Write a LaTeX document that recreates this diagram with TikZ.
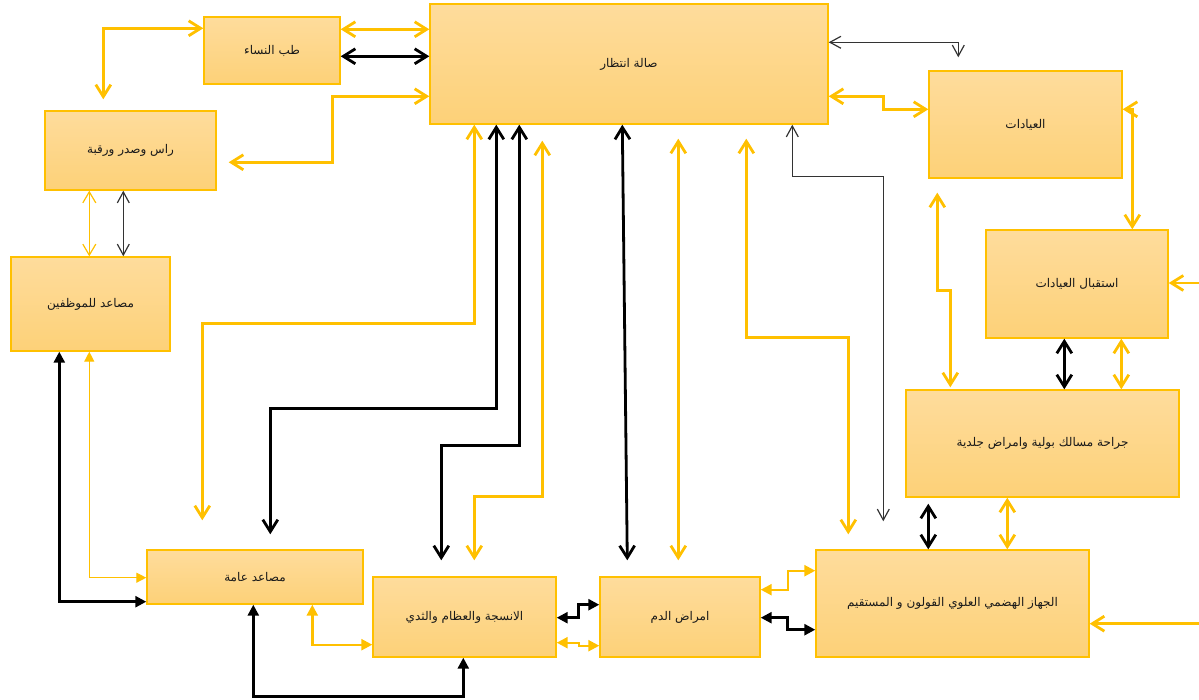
\documentclass[tikz,border=0pt]{standalone}
\usepackage{fontspec}
\usetikzlibrary{arrows.meta,calc}
\TeXXeTstate=1
\newfontfamily\arabicfont[Script=Arabic]{DejaVu Sans}
\newcommand\artxt[1]{{\arabicfont\fontsize{12}{14}\selectfont\beginR #1\endR}}
\definecolor{yel}{HTML}{FFC000}
\definecolor{boxtop}{HTML}{FEDC9C}
\definecolor{boxbot}{HTML}{FDD178}
\definecolor{ink}{HTML}{1A1A1A}
\tikzset{
  room/.style={draw=yel, line width=1.4pt, top color=boxtop, bottom color=boxbot,
    inner sep=0pt, text=ink},
  yl/.style={draw=yel, line width=2.8pt, >={Straight Barb[length=12pt,width=15pt]}},
  ylthin/.style={draw=yel, line width=1.2pt, >={Straight Barb[length=11pt,width=13pt]}},
  bk/.style={draw=black, line width=2.8pt, >={Straight Barb[length=12pt,width=15pt]}},
  bkthin/.style={draw=black!80, line width=1.2pt, >={Straight Barb[length=11pt,width=12pt]}},
  ylf/.style={draw=yel, line width=2.4pt, >={Triangle[length=11pt,width=11pt]}},
  ylfthin/.style={draw=yel, line width=1.3pt, >={Triangle[length=10pt,width=10pt]}},
  bkf/.style={draw=black, line width=2.6pt, >={Triangle[length=11pt,width=11pt]}},
  line join=miter
}
\begin{document}
\begin{tikzpicture}[x=1pt,y=-1pt]
\useasboundingbox (0,0) rectangle (1199,700);

% rooms
\node[room, minimum width=136, minimum height=67]  (wm) at (272,50.5)   {\artxt{طب النساء}};
\node[room, minimum width=398, minimum height=120] (ws) at (629,64)     {\artxt{صالة انتظار}};
\node[room, minimum width=171, minimum height=79]  (hn) at (130.5,150.5){\artxt{راس وصدر ورقبة}};
\node[room, minimum width=193, minimum height=107] (cl) at (1025.5,124.5){\artxt{العيادات}};
\node[room, minimum width=182, minimum height=108] (cr) at (1077,284)   {\artxt{استقبال العيادات}};
\node[room, minimum width=159, minimum height=94]  (se) at (90.5,304)   {\artxt{مصاعد للموظفين}};
\node[room, minimum width=216, minimum height=54]  (pe) at (255,577)    {\artxt{مصاعد عامة}};
\node[room, minimum width=183, minimum height=80]  (tb) at (464.5,617)  {\artxt{الانسجة والعظام والثدي}};
\node[room, minimum width=160, minimum height=80]  (bd) at (680,617)    {\artxt{امراض الدم}};
\node[room, minimum width=273, minimum height=107] (ur) at (1042.5,443.5){\artxt{جراحة مسالك بولية وامراض جلدية}};
\node[room, minimum width=273, minimum height=107] (gi) at (952.5,603.5){\artxt{الجهاز الهضمي العلوي القولون و المستقيم}};

% upper left
\draw[yl,<->] ($(hn.north west)+(59,-11)$) |- ($(wm.north west)+(0,12)$);
\draw[yl,<->] ($(wm.north east)+(0,13)$) -- ($(ws.north west)+(0,26)$);
\draw[bk,<->] ($(wm.north east)+(0,40)$) -- ($(ws.north west)+(0,53)$);
\draw[yl,<->] ($(ws.north west)+(0,93)$) -- ++(-97,0) |- ($(hn.north east)+(12,52)$);
\draw[ylthin,<->] ($(hn.south west)+(45,0)$) -- ($(se.north west)+(79,0)$);
\draw[bkthin,<->] ($(hn.south west)+(79,0)$) -- ($(se.north west)+(113,0)$);

% right side
\draw[bkthin,<->] ($(ws.north east)+(0,39)$) -| ($(cl.north west)+(30,-13)$);
\draw[yl,<->] ($(ws.north east)+(0,93)$) -- ++(55,0) |- ($(cl.north west)+(0,39)$);
\draw[yl,<->] ($(cr.north west)+(147,0)$) |- ($(cl.north east)+(0,39)$);
\draw[yl,->] ($(cr.east)+(31,-1)$) -- ($(cr.east)+(0,-1)$);
\draw[yl,->] ($(gi.south east)+(110,-34)$) -- ($(gi.south east)+(0,-34)$);
\draw[yl,<->] ($(cl.south west)+(9,14)$) -- ($(cl.south west)+(9,112)$) -| ($(ur.north west)+(45,-2)$);
\draw[bk,<->] ($(cr.south west)+(79,0)$) -- ($(ur.north west)+(159,0)$);
\draw[yl,<->] ($(cr.south west)+(136,0)$) -- ($(ur.north west)+(216,0)$);
\draw[bk,<->] ($(ur.south west)+(23,6)$) -- ($(gi.north west)+(113,0)$);
\draw[yl,<->] ($(ur.south west)+(102,0)$) -- ($(gi.north west)+(192,0)$);

% from the waiting hall downwards
\draw[yl,<->] ($(ws.south west)+(317,14)$) -- ($(ws.south west)+(317,213)$) -| ($(gi.north west)+(33,-15)$);
\draw[bkthin,<->] ($(ws.south west)+(363,0)$) -- ++(0,52) -| ($(gi.north west)+(68,-28)$);
\draw[yl,<->] ($(ws.south west)+(249,14)$) -- ($(bd.north west)+(79,-16)$);
\draw[bk,<->] ($(ws.south west)+(193,0)$) -- ($(bd.north west)+(28,-16)$);
\draw[yl,<->] ($(ws.south west)+(45,0)$) -- ++(0,199) -| ($(pe.north west)+(56,-29)$);
\draw[bk,<->] ($(ws.south west)+(67,0)$) -- ++(0,284) -| ($(pe.north west)+(124,-15)$);
\draw[bk,<->] ($(ws.south west)+(90,0)$) -- ++(0,321) -| ($(tb.north west)+(69,-16)$);
\draw[yl,<->] ($(ws.south west)+(113,16)$) -- ($(ws.south west)+(113,372)$) -| ($(tb.north west)+(102,-16)$);

% lower row
\draw[bkf,<->] ($(se.south west)+(49,0)$) |- ($(pe.south west)+(0,-3)$);
\draw[ylfthin,<->] ($(se.south west)+(79,0)$) |- ($(pe.south west)+(0,-27)$);
\draw[ylf,<->] ($(pe.south west)+(166,0)$) |- ($(tb.south west)+(0,-13)$);
\draw[bkf,<->] ($(pe.south west)+(107,0)$) -- ++(0,92) -| ($(tb.south west)+(91,0)$);
\draw[bkf,<->] ($(tb.south east)+(0,-40)$) -- ++(22,0) |- ($(bd.south west)+(0,-53)$);
\draw[ylf,<->] ($(tb.south east)+(0,-15)$) -- ++(22,0) |- ($(bd.south west)+(0,-12)$);
\draw[ylf,<->] ($(bd.south east)+(0,-68)$) -- ++(27,0) |- ($(gi.south west)+(0,-87)$);
\draw[bkf,<->] ($(bd.south east)+(0,-40)$) -- ++(27,0) |- ($(gi.south west)+(0,-28)$);
\end{tikzpicture}
\end{document}
